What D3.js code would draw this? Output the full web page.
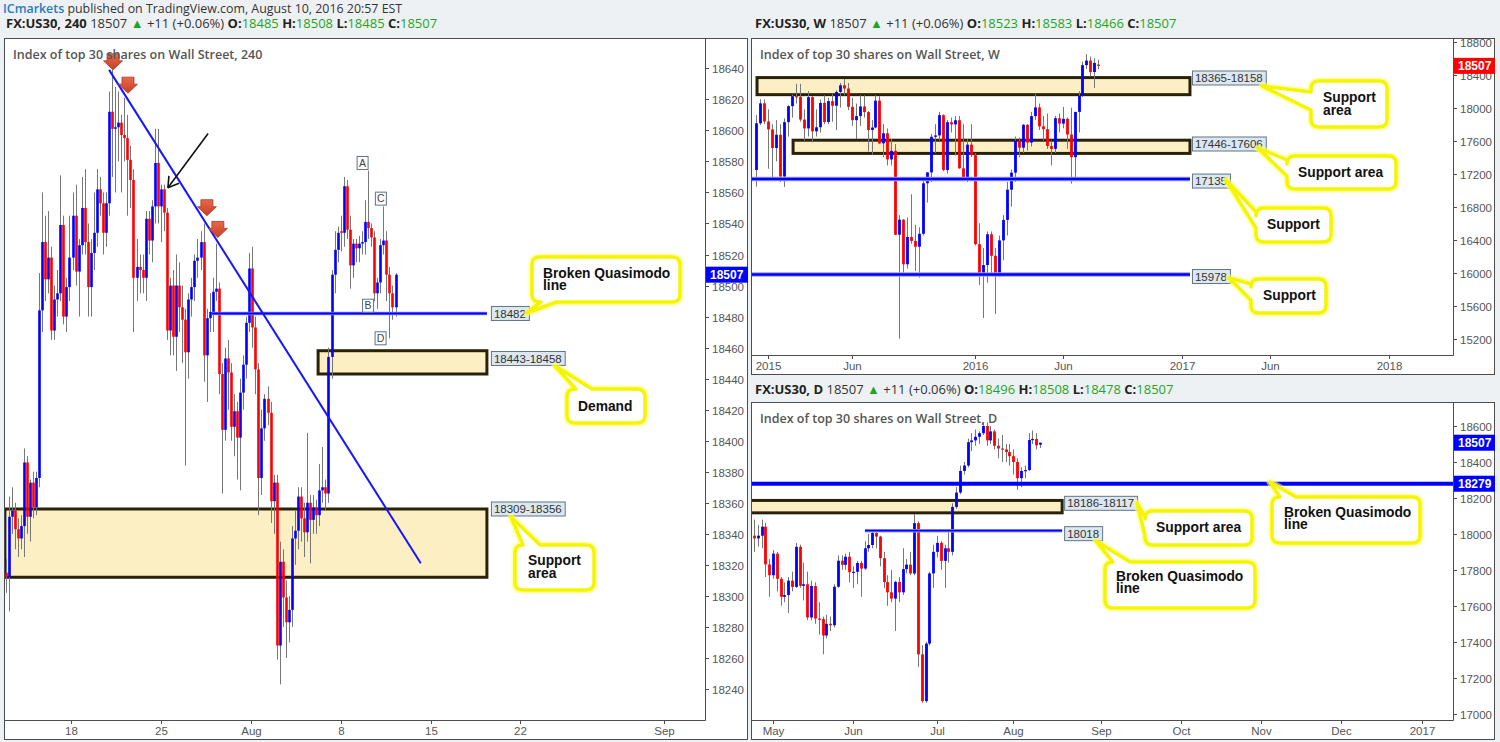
<!DOCTYPE html>
<html><head><meta charset="utf-8">
<script src="https://cdn.jsdelivr.net/npm/d3@7"></script>
<style>body{margin:0;background:#eef1f4;}svg{display:block}</style>
</head><body><svg id="c" width="1500" height="742"></svg>
<script>
// ---------------- DATA ----------------
const hdrTop = ["ICmarkets", " published on TradingView.com, August 10, 2016 20:57 EST"];
const hdr240 = ["FX:US30, 240","18507","+11 (+0.06%)","18485","18508","18485","18507"];
const hdrW   = ["FX:US30, W","18507","+11 (+0.06%)","18523","18583","18466","18507"];
const hdrD   = ["FX:US30, D","18507","+11 (+0.06%)","18496","18508","18478","18507"];
const titles = ["Index of top 30 shares on Wall Street, 240","Index of top 30 shares on Wall Street, W","Index of top 30 shares on Wall Street, D"];

// 4H candles [open, high, low, close]
const h4Candles = [
[18315,18324,18302,18312],[18312,18364,18290,18351],[18351,18370,18340,18355],[18355,18360,18330,18343],
[18343,18350,18325,18337],[18337,18352,18330,18345],[18345,18395,18325,18386],[18386,18390,18340,18351],
[18351,18375,18335,18373],[18373,18380,18350,18357],[18357,18380,18352,18376],[18376,18508,18370,18484],
[18484,18560,18470,18528],[18528,18545,18490,18504],[18504,18548,18495,18518],[18518,18525,18465,18471],
[18471,18500,18465,18491],[18491,18510,18480,18495],[18495,18571,18490,18539],[18539,18545,18475,18480],
[18480,18505,18470,18499],[18499,18545,18490,18518],[18518,18560,18510,18545],[18545,18565,18500,18509],
[18509,18530,18480,18526],[18526,18570,18520,18550],[18550,18575,18520,18528],[18528,18540,18480,18499],
[18499,18530,18480,18521],[18521,18560,18510,18534],[18534,18575,18525,18562],[18562,18570,18545,18553],
[18553,18560,18520,18534],[18534,18560,18525,18553],[18553,18625,18545,18612],[18612,18639,18570,18601],
[18601,18628,18560,18602],[18602,18625,18580,18605],[18605,18610,18560,18597],[18597,18621,18580,18595],
[18595,18610,18545,18581],[18581,18590,18550,18568],[18568,18575,18470,18505],[18505,18530,18490,18512],
[18512,18520,18495,18510],[18510,18520,18495,18505],[18505,18548,18490,18543],[18543,18548,18520,18529],
[18529,18555,18515,18551],[18551,18601,18540,18579],[18579,18601,18540,18551],[18551,18565,18528,18562],
[18562,18565,18535,18547],[18547,18550,18465,18471],[18471,18505,18455,18500],[18500,18510,18455,18467],
[18467,18520,18445,18500],[18500,18515,18470,18486],[18486,18500,18450,18478],[18478,18485,18384,18457],
[18457,18495,18440,18491],[18491,18505,18480,18499],[18499,18520,18490,18516],[18516,18530,18505,18518],
[18518,18535,18510,18528],[18528,18540,18438,18455],[18455,18485,18425,18479],[18479,18495,18470,18483],
[18483,18505,18470,18496],[18496,18527,18490,18498],[18498,18502,18430,18443],[18443,18450,18366,18407],
[18407,18460,18400,18453],[18453,18465,18420,18444],[18444,18450,18400,18409],[18409,18430,18390,18419],
[18419,18425,18375,18402],[18402,18440,18368,18431],[18431,18455,18420,18449],[18449,18480,18440,18476],
[18476,18521,18470,18511],[18511,18525,18460,18473],[18473,18480,18430,18446],[18446,18450,18352,18376],
[18376,18420,18365,18408],[18408,18430,18400,18427],[18427,18435,18410,18418],[18418,18425,18347,18361],
[18361,18378,18340,18373],[18373,18378,18259,18268],[18268,18335,18243,18322],[18322,18330,18280,18299],
[18299,18310,18260,18283],[18283,18300,18270,18291],[18291,18345,18280,18337],[18337,18355,18320,18342],
[18342,18370,18330,18364],[18364,18370,18335,18350],[18350,18360,18325,18341],[18341,18405,18335,18360],
[18360,18365,18321,18349],[18349,18365,18340,18357],[18357,18362,18340,18352],[18352,18385,18345,18368],
[18368,18396,18360,18370],[18370,18375,18355,18366],[18366,18460,18360,18454],[18454,18510,18440,18507],
[18507,18535,18495,18523],[18523,18538,18515,18534],[18535,18545,18522,18534],[18534,18570,18525,18564],
[18564,18568,18530,18536],[18536,18545,18498,18513],[18513,18530,18505,18527],[18527,18530,18515,18524],
[18524,18532,18515,18527],[18527,18535,18520,18528],[18528,18555,18520,18541],[18541,18574,18530,18537],
[18537,18540,18525,18531],[18531,18535,18490,18495],[18495,18505,18485,18502],[18502,18530,18495,18526],
[18526,18551,18520,18529],[18529,18535,18490,18507],[18507,18512,18466,18495],[18495,18500,18478,18486],
[18486,18508,18480,18507]
];
const h4PriceTicks = [18240,18260,18280,18300,18320,18340,18360,18380,18400,18420,18440,18460,18480,18500,18520,18540,18560,18580,18600,18620,18640];
const h4TimeTicks = [[21.5,"18"],[51,"25"],[80.5,"Aug"],[110,"8"],[139.5,"15"],[169,"22"],[216,"Sep"]];
// zones: [top, bottom, startIdx, endIdx, label, labelPrice]
const h4Zones = [[18356,18312,-0.2,158,"18309-18356",18356],[18458,18443,102.6,158,"18443-18458",18453]];
const h4Levels = [[18482,67.8,158,"18482"]];
const h4Trend = [[34,18639],[136.3,18321]];
const h4Markers = [[35.3,18639],[40.2,18624],[66.1,18545],[69.7,18531]];
const h4Arrow = [[66.5,18598],[53.3,18563]];
const h4Letters = [["A",117.2,18579],["B",119,18487],["C",123.2,18556],["D",123.1,18466]];

// Weekly candles
const wCandles = [
[17245,17912,17043,17811],[17811,18103,17790,18053],[18053,18100,17800,17833],[17833,17980,17260,17737],
[17737,17800,17130,17512],[17512,17850,17350,17672],[17672,17800,17100,17165],[17165,17870,17040,17825],
[17825,18030,17650,18019],[18019,18160,17880,18140],[18140,18290,18050,18133],[18133,18290,17830,17856],
[17856,17980,17600,17749],[17749,18200,17650,18128],[18128,18140,17580,17713],[17713,17980,17650,17763],
[17763,18100,17700,18058],[18058,18150,17800,17826],[17826,18120,17800,18080],[18080,18170,17830,18024],
[18024,18210,17730,18191],[18191,18300,18000,18272],[18272,18350,18150,18232],[18232,18300,17970,18011],
[18011,18120,17780,17849],[17849,18050,17620,17898],[17898,18150,17780,18015],[18015,18150,17880,17947],
[17947,17960,17470,17730],[17730,17850,17430,17760],[17760,18150,17750,18086],[18086,18140,17560,17568],
[17568,17800,17400,17690],[17690,17750,17300,17373],[17373,17620,17300,17477],[17477,17560,16460,16460],
[16460,16700,15200,16643],[16643,16650,15980,16102],[16102,16670,16050,16433],[16433,16950,16350,16385],
[16385,16580,16020,16315],[16315,16550,15940,16472],[16472,17150,16450,17084],[17084,17220,16850,17216],
[17216,17680,17100,17647],[17647,17800,17450,17664],[17664,17950,17600,17910],[17910,17920,17230,17245],
[17245,17850,17200,17824],[17824,17880,17700,17798],[17798,17900,17420,17848],[17848,17900,17260,17265],
[17265,17800,17120,17128],[17128,17620,17100,17552],[17552,17800,17400,17425],[17425,17450,16330,16346],
[16346,16600,15850,15988],[15988,16300,15450,16093],[16093,16500,15880,16466],[16466,16500,15980,16205],
[16205,16300,15500,15974],[15974,16450,15950,16392],[16392,16700,16150,16640],[16640,17100,16450,17006],
[17006,17250,16800,17213],[17213,17650,17100,17602],[17602,17640,17400,17515],[17515,17800,17450,17793],
[17793,17800,17480,17577],[17577,17950,17530,17898],[17898,18170,17850,18004],[18004,18050,17730,17774],
[17774,17900,17600,17740],[17740,17930,17500,17535],[17535,17600,17300,17501],[17501,17900,17450,17873],
[17873,17930,17700,17807],[17807,18010,17750,17865],[17865,17880,17500,17675],[17675,18000,17080,17400],
[17400,17950,17130,17949],[17949,18200,17700,18146],[18146,18560,18130,18516],[18516,18650,18470,18571],
[18571,18620,18380,18432],[18432,18600,18240,18543],[18523,18583,18466,18507]
];
const wPriceTicks = [15200,15600,16000,16400,16800,17200,17600,18000,18400,18800];
const wTimeTicks = [[3,"2015"],[24,"Jun"],[55,"2016"],[77,"Jun"],[107,"2017"],[129,"Jun"],[159,"2018"]];
const wZones = [[18365,18158,0.24,109,"18365-18158",18360],[17606,17446,9.3,109,"17446-17606",17560]];
const wLevels = [[17135,-3,109,"17135"],[15978,-3,109,"15978"]];

// Daily candles (from Apr 25 2016)
const dCandles = [
[17990,18080,17900,17975],[17975,18050,17930,17990],[17990,18080,17920,18040],[18040,18060,17760,17830],[17830,17860,17650,17770],
[17770,17910,17750,17890],[17890,17900,17680,17750],[17750,17760,17600,17650],[17650,17730,17620,17660],[17660,17760,17560,17740],
[17740,17790,17680,17705],[17705,17950,17700,17928],[17928,17940,17700,17711],[17711,17840,17630,17720],[17720,17790,17520,17535],
[17535,17740,17520,17710],[17710,17730,17500,17529],[17529,17620,17440,17526],[17526,17540,17330,17435],[17435,17550,17420,17500],
[17500,17540,17460,17492],[17492,17720,17480,17706],[17706,17880,17700,17851],[17851,17880,17800,17828],[17828,17890,17800,17873],
[17873,17900,17730,17787],
[17787,17820,17700,17789],[17789,17850,17720,17838],[17838,17850,17650,17807],
[17807,17960,17800,17920],[17920,18000,17900,17938],[17938,18020,17920,18005],[18005,18010,17920,17985],[17985,17990,17820,17865],
[17865,17900,17700,17732],[17732,17770,17600,17675],[17675,17800,17620,17640],[17640,17740,17460,17733],[17733,17760,17620,17675],
[17675,17920,17660,17804],[17804,17860,17780,17829],[17829,17900,17770,17780],[17780,18110,17770,18060],[18060,18070,17260,17330],
[17330,17380,17060,17070],[17070,17400,17060,17390],[17390,17790,17380,17780],[17780,17940,17700,17900],
[17900,17990,17870,17950],
[17950,17960,17800,17850],[17850,17940,17700,17920],[17920,18010,17840,17900],[17900,18170,17880,18150],
[18150,18260,18140,18230],[18230,18380,18220,18350],[18350,18400,18330,18380],[18380,18530,18370,18510],[18510,18560,18460,18520],
[18520,18580,18490,18540],[18540,18570,18500,18560],[18560,18620,18550,18600],[18600,18620,18490,18520],[18520,18600,18500,18570],
[18570,18580,18470,18490],[18490,18530,18420,18475],[18475,18550,18400,18470],[18470,18500,18400,18455],[18455,18500,18380,18432],
[18432,18470,18330,18400],[18400,18420,18245,18310],[18310,18370,18260,18350],[18350,18380,18310,18355],[18355,18560,18350,18522],
[18522,18575,18500,18528],[18528,18560,18470,18492],[18496,18508,18478,18507]
];
const dPriceTicks = [17000,17200,17400,17600,17800,18000,18200,18400,18600];
const dTimeTicks = [[5,"May"],[26,"Jun"],[48,"Jul"],[68,"Aug"],[91,"Sep"],[112,"Oct"],[133,"Nov"],[154,"Dec"],[175,"2017"]];
const dZones = [[18186,18117,-3,80.8,"18186-18117",18170]];
const dLevels = [[18018,29.1,80.8,"18018"]];
const dLevelFull = [18279];

// ---------------- RENDER ----------------
const FUI = "'Open Sans','Noto Sans',sans-serif";
const FAX = "'Liberation Sans',Arial,sans-serif";
const FCL = "'Liberation Sans',Arial,sans-serif";
const BLUE = "#0000ff", RED = "#ff0000", GREEN = "#1fa51f";
const svg = d3.select("#c");
svg.append("rect").attr("width",1500).attr("height",742).attr("fill","#eef1f4");

function header(x,y,parts,size){
  const t = svg.append("text").attr("x",x).attr("y",y).attr("font-family",FUI).attr("font-size",size).style("white-space","pre");
  parts.forEach(p=>t.append("tspan").text(p[0]).attr("fill",p[1]).attr("font-weight",p[2]||400));
}
function symParts(h){
  return [[h[0]+" ","#222",700],[h[1]+" ","#333"],["▲",GREEN],[" "+h[2]+" ","#333"],
    ["O:","#222",700],[h[3]+" ",GREEN],["H:","#222",700],[h[4]+" ",GREEN],
    ["L:","#222",700],[h[5]+" ",GREEN],["C:","#222",700],[h[6],GREEN]];
}
header(3,12.5,[[hdrTop[0],"#1f7cc2",600],[hdrTop[1],"#333"]],12.4);
header(6,28,symParts(hdr240),13);
header(755,28,symParts(hdrW),13);
header(755,394,symParts(hdrD),13);

let clipId=0;
function makePanel(p){
  const g = svg.append("g");
  g.append("rect").attr("x",p.x0+0.5).attr("y",p.y0+0.5).attr("width",p.x1-p.x0).attr("height",p.y1-p.y0)
    .attr("fill","#fff").attr("stroke","#4d4d4d");
  const id="clip"+(clipId++);
  svg.append("clipPath").attr("id",id).append("rect").attr("x",p.x0+1).attr("y",p.y0+1).attr("width",p.ax-p.x0-1).attr("height",p.ay-p.y0-1);
  const plot = svg.append("g").attr("clip-path",`url(#${id})`);
  const over = svg.append("g");
  over.append("line").attr("x1",p.ax+0.5).attr("x2",p.ax+0.5).attr("y1",p.y0).attr("y2",p.ay+0.5).attr("stroke","#4d4d4d");
  over.append("line").attr("x1",p.x0).attr("x2",p.ax+0.5).attr("y1",p.ay+0.5).attr("y2",p.ay+0.5).attr("stroke","#4d4d4d");
  p.yTicks.forEach(v=>{
    const y=Math.round(p.y(v))+0.5;
    over.append("line").attr("x1",p.ax).attr("x2",p.ax+4).attr("y1",y).attr("y2",y).attr("stroke","#4d4d4d");
    over.append("text").attr("x",p.ax+7).attr("y",y).attr("dy","0.35em").attr("font-family",FAX).attr("font-size",11.5).attr("fill","#555").text(v);
  });
  p.xTicks.forEach(t=>{
    const x=Math.round(p.x(t[0]))+0.5;
    over.append("line").attr("x1",x).attr("x2",x).attr("y1",p.ay).attr("y2",p.ay+4).attr("stroke","#4d4d4d");
    over.append("text").attr("x",x).attr("y",p.ay+15).attr("text-anchor","middle").attr("font-family",FAX).attr("font-size",11.5).attr("fill","#555").text(t[1]);
  });
  over.append("text").attr("x",p.x0+9).attr("y",p.y0+21).attr("font-family",FUI).attr("font-size",12.5).attr("font-weight",600).attr("fill","#555").text(p.title);
  return {plot,over};
}

function zone(g,z,x,y){
  g.append("rect").attr("x",x(z[2])).attr("y",y(z[0])).attr("width",x(z[3])-x(z[2])).attr("height",y(z[1])-y(z[0]))
    .attr("fill","#fdefc4").attr("stroke","#2a2208").attr("stroke-width",3);
}
function priceTag(g,x,yc,text){
  const t = g.append("text").attr("x",x+3).attr("y",yc).attr("dy","0.35em").attr("font-family",FAX).attr("font-size",11.5).attr("fill","#333").text(text);
  const w = t.node().getComputedTextLength();
  g.insert("rect","text:last-child").attr("x",x+0.5).attr("y",yc-7).attr("width",w+6).attr("height",14).attr("fill","#dde7ef").attr("stroke","#60748a");
  t.raise();
}
function candles(g,data,x,y,bw){
  g.append("g").selectAll("line").data(data).join("line")
    .attr("x1",(d,i)=>Math.round(x(i))+0.5).attr("x2",(d,i)=>Math.round(x(i))+0.5)
    .attr("y1",d=>y(d[1])).attr("y2",d=>y(d[2])).attr("stroke","#777").attr("stroke-width",1);
  g.append("g").selectAll("rect").data(data).join("rect")
    .attr("x",(d,i)=>Math.round(x(i))+0.5-bw/2).attr("width",bw)
    .attr("y",d=>y(Math.max(d[0],d[3]))).attr("height",d=>Math.max(1.2,Math.abs(y(d[0])-y(d[3]))))
    .attr("fill",d=>d[3]>=d[0]?BLUE:RED);
}
function lastTag(g,ax,y,text,color,w){
  g.append("rect").attr("x",ax+1).attr("y",y-8).attr("width",w).attr("height",16).attr("fill",color);
  g.append("text").attr("x",ax+5).attr("y",y).attr("dy","0.35em").attr("font-family",FAX).attr("font-size",12).attr("font-weight",700).attr("fill","#fff").text(text);
}
function calloutPath(c){
  const [x0,y0,x1,y1]=c.box, r=8, [tx,ty]=c.tip, [a1,a2]=c.a;
  let p=`M${x0+r},${y0}`;
  if(c.side==="top") p+=`L${a1},${y0}L${tx},${ty}L${a2},${y0}`;
  p+=`L${x1-r},${y0}Q${x1},${y0} ${x1},${y0+r}L${x1},${y1-r}Q${x1},${y1} ${x1-r},${y1}`;
  if(c.side==="bottom") p+=`L${a2},${y1}L${tx},${ty}L${a1},${y1}`;
  p+=`L${x0+r},${y1}Q${x0},${y1} ${x0},${y1-r}`;
  if(c.side==="left") p+=`L${x0},${a2}L${tx},${ty}L${x0},${a1}`;
  p+=`L${x0},${y0+r}Q${x0},${y0} ${x0+r},${y0}Z`;
  return p;
}
function callout(c){
  const d=calloutPath(c);
  svg.append("path").attr("d",d).attr("fill","none").attr("stroke","#ffff70").attr("stroke-width",7).attr("stroke-opacity",0.6).attr("stroke-linejoin","round");
  svg.append("path").attr("d",d).attr("fill","#fff").attr("stroke","#f5f500").attr("stroke-width",3.5).attr("stroke-linejoin","round");
  c.lines.forEach(l=>svg.append("text").attr("x",l[1]).attr("y",l[2]).attr("font-family",FCL).attr("font-size",13.8).attr("font-weight",700).attr("fill","#111").text(l[0]));
}

// ---- Left 4H panel ----
const xL = d3.scaleLinear().domain([0,128]).range([5.5,395.5]);
const yL = d3.scaleLinear().domain([18240,18640]).range([689,68.3]);
const L = makePanel({x0:4,y0:38,x1:747,y1:739,ax:705,ay:720,x:xL,y:yL,yTicks:h4PriceTicks,xTicks:h4TimeTicks,title:titles[0]});
h4Zones.forEach(z=>zone(L.plot,z,xL,yL));
candles(L.plot,h4Candles,xL,yL,2.6);
h4Levels.forEach(l=>{
  L.plot.append("line").attr("x1",xL(l[1])).attr("x2",xL(l[2])).attr("y1",yL(l[0])).attr("y2",yL(l[0])).attr("stroke","#8f8fff").attr("stroke-width",3.5);
  L.plot.append("line").attr("x1",xL(l[1])).attr("x2",xL(l[2])).attr("y1",yL(l[0])).attr("y2",yL(l[0])).attr("stroke",BLUE).attr("stroke-width",1.8);
});
L.plot.append("line").attr("x1",xL(h4Trend[0][0])).attr("y1",yL(h4Trend[0][1])).attr("x2",xL(h4Trend[1][0])).attr("y2",yL(h4Trend[1][1]))
  .attr("stroke","#1515ff").attr("stroke-width",2);
const defs = svg.append("defs");
const gr = defs.append("linearGradient").attr("id","mk").attr("x1",0).attr("y1",0).attr("x2",0).attr("y2",1);
gr.append("stop").attr("offset","0%").attr("stop-color","#e8694a");
gr.append("stop").attr("offset","100%").attr("stop-color","#c83d25");
h4Markers.forEach(m=>{
  const tx=xL(m[0]), ty=yL(m[1]);
  L.plot.append("path").attr("d",`M${tx},${ty}L${tx-9.5},${ty-9}L${tx-6},${ty-9}L${tx-6},${ty-16}L${tx+6},${ty-16}L${tx+6},${ty-9}L${tx+9.5},${ty-9}Z`)
    .attr("fill","url(#mk)").attr("stroke","#a8361f").attr("stroke-width",0.8);
});
{
  const [a,b]=h4Arrow; const x1=xL(a[0]),y1=yL(a[1]),x2=xL(b[0]),y2=yL(b[1]);
  L.plot.append("line").attr("x1",x1).attr("y1",y1).attr("x2",x2).attr("y2",y2).attr("stroke","#111").attr("stroke-width",1.6);
  const ang=Math.atan2(y1-y2,x1-x2);
  [0.55,-0.55].forEach(da=>L.plot.append("line").attr("x1",x2).attr("y1",y2).attr("x2",x2+12*Math.cos(ang+da)).attr("y2",y2+12*Math.sin(ang+da)).attr("stroke","#111").attr("stroke-width",1.6));
}
h4Letters.forEach(t=>{
  const cx=xL(t[1]), cy=yL(t[2]);
  L.plot.append("rect").attr("x",cx-5.5).attr("y",cy-6.5).attr("width",11).attr("height",13).attr("fill","#fff").attr("stroke","#5e7286");
  L.plot.append("text").attr("x",cx).attr("y",cy).attr("dy","0.35em").attr("text-anchor","middle").attr("font-family",FAX).attr("font-size",10.5).attr("fill","#444").text(t[0]);
});
h4Zones.forEach(z=>priceTag(L.over,xL(z[3])+4,yL(z[5]),z[4]));
h4Levels.forEach(l=>priceTag(L.over,xL(l[2])+4,yL(l[0]),l[3]));
lastTag(L.over,705,yL(+hdr240[1]),hdr240[1],BLUE,42);

// ---- Weekly panel ----
const xW = d3.scaleLinear().domain([0,159]).range([756.06,1389]);
const yW = d3.scaleLinear().domain([15200,18800]).range([338.7,41.7]);
const W = makePanel({x0:751,y0:38,x1:1494,y1:374,ax:1453,ay:355,x:xW,y:yW,yTicks:wPriceTicks,xTicks:wTimeTicks,title:titles[1]});
wZones.forEach(z=>zone(W.plot,z,xW,yW));
candles(W.plot,wCandles,xW,yW,2.8);
wLevels.forEach(l=>{
  W.plot.append("line").attr("x1",xW(l[1])).attr("x2",xW(l[2])).attr("y1",yW(l[0])).attr("y2",yW(l[0])).attr("stroke","#9a9aff").attr("stroke-width",4.5);
  W.plot.append("line").attr("x1",xW(l[1])).attr("x2",xW(l[2])).attr("y1",yW(l[0])).attr("y2",yW(l[0])).attr("stroke",BLUE).attr("stroke-width",2.4);
});
wZones.forEach(z=>priceTag(W.over,xW(z[3])+2,yW(z[5]),z[4]));
wLevels.forEach(l=>priceTag(W.over,xW(l[2])+2,yW(l[0])+2,l[3]));
lastTag(W.over,1453,yW(+hdrW[1]),hdrW[1],RED,41);

// ---- Daily panel ----
const xD = d3.scaleLinear().domain([0,175]).range([753.9,1421.5]);
const yD = d3.scaleLinear().domain([17000,18600]).range([713.7,426]);
const D = makePanel({x0:751,y0:402,x1:1494,y1:739,ax:1453,ay:720,x:xD,y:yD,yTicks:dPriceTicks,xTicks:dTimeTicks,title:titles[2]});
dZones.forEach(z=>zone(D.plot,z,xD,yD));
candles(D.plot,dCandles,xD,yD,2.8);
dLevels.forEach(l=>{
  D.plot.append("line").attr("x1",xD(l[1])).attr("x2",xD(l[2])).attr("y1",yD(l[0])).attr("y2",yD(l[0])).attr("stroke","#9a9aff").attr("stroke-width",3.5);
  D.plot.append("line").attr("x1",xD(l[1])).attr("x2",xD(l[2])).attr("y1",yD(l[0])).attr("y2",yD(l[0])).attr("stroke",BLUE).attr("stroke-width",1.8);
});
dLevelFull.forEach(v=>D.plot.append("line").attr("x1",751).attr("x2",1453).attr("y1",yD(v)).attr("y2",yD(v)).attr("stroke",BLUE).attr("stroke-width",4));
dZones.forEach(z=>priceTag(D.over,xD(z[3])+2,yD(z[5]),z[4]));
dLevels.forEach(l=>priceTag(D.over,xD(l[2])+2,yD(l[0])+3,l[3]));
lastTag(D.over,1453,yD(+hdrD[1]),hdrD[1],BLUE,41);
dLevelFull.forEach(v=>lastTag(D.over,1453,yD(v),String(v),BLUE,41));

// ---- Callouts ----
const callouts = [
 {box:[532,257,680,302],side:"bottom",a:[541,556],tip:[527,313],lines:[["Broken Quasimodo",543,278],["line",543,290]]},
 {box:[567,389,645,423],side:"top",a:[576,592],tip:[555,366],lines:[["Demand",578,411]]},
 {box:[515,545,594,590],side:"top",a:[523,540],tip:[511,517],lines:[["Support",528,565],["area",528,578]]},
 {box:[1311,81,1387,127],side:"left",a:[92,110],tip:[1262,86],lines:[["Support",1323,102],["area",1323,115]]},
 {box:[1287,156,1396,189],side:"left",a:[160,176],tip:[1258,148],lines:[["Support area",1298,177]]},
 {box:[1256,208,1331,242],side:"left",a:[212,228],tip:[1226,180],lines:[["Support",1267,229]]},
 {box:[1251,279,1326,313],side:"left",a:[284,300],tip:[1229,278],lines:[["Support",1263,300]]},
 {box:[1145,511,1252,545],side:"left",a:[517,535],tip:[1137,503],lines:[["Support area",1156,532]]},
 {box:[1272,497,1420,543],side:"top",a:[1280,1296],tip:[1270,482],lines:[["Broken Quasimodo",1284,517],["line",1284,529]]},
 {box:[1105,562,1255,608],side:"top",a:[1113,1130],tip:[1096,541],lines:[["Broken Quasimodo",1116,581],["line",1116,593]]}
];
callouts.forEach(callout);
</script></body></html>
